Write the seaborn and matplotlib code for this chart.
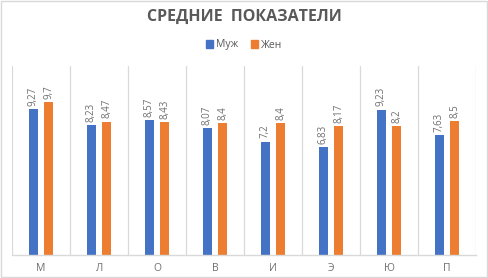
import pandas as pd
import seaborn as sns
import matplotlib.pyplot as plt
from matplotlib.patches import Rectangle

categories = ['М', 'Л', 'О', 'В', 'И', 'Э', 'Ю', 'П']
male = [9.27, 8.23, 8.57, 8.07, 7.2, 6.83, 9.23, 7.63]
female = [9.7, 8.47, 8.43, 8.4, 8.4, 8.17, 8.2, 8.5]
series = ['Муж', 'Жен']
colors = ['#4472c4', '#ed7d31']

df = pd.DataFrame({
    'cat': categories * 2,
    'val': male + female,
    'sex': [series[0]] * len(male) + [series[1]] * len(female),
})

sns.set_style('white')
plt.rcParams['font.family'] = ['Open Sans', 'DejaVu Sans']

fig = plt.figure(figsize=(4.88, 2.78), dpi=100)
ax = fig.add_axes([12 / 488, 23 / 278, 464 / 488, 189 / 278])

sns.barplot(data=df, x='cat', y='val', hue='sex', palette=colors, width=0.52,
            saturation=1, ax=ax, legend=False)

# slimmer bars with a gap, like the Excel original
bw = 8.5 / 58
for cont in ax.containers:
    for bar in cont:
        cx = bar.get_x() + bar.get_width() / 2
        bar.set_width(bw)
        bar.set_x(cx - bw / 2)
        bar.set_edgecolor('none')

ax.set_ylim(0, 12)
ax.set_xlim(-0.5, len(categories) - 0.5)
ax.set_yticks([])
ax.set_xlabel('')
ax.set_ylabel('')
for s in ['top', 'left', 'right']:
    ax.spines[s].set_visible(False)
ax.spines['bottom'].set_color('#d9d9d9')
ax.spines['bottom'].set_linewidth(1)
ax.tick_params(axis='x', length=0, pad=6, labelsize=7.5, labelcolor='#6f6f6f')

# vertical separators between categories
for xb in range(len(categories) + 1):
    ax.axvline(xb - 0.5, color='#d9d9d9', lw=0.9, zorder=0)

# data labels
for cont in ax.containers:
    for bar in cont:
        h = bar.get_height()
        ax.text(bar.get_x() + bar.get_width() / 2, h + 0.2,
                f'{h:g}'.replace('.', ','), rotation=90, ha='center', va='bottom',
                fontsize=7, color='#6f6f6f')

fig.text(0.5, 1 - 17 / 278, 'СРЕДНИЕ  ПОКАЗАТЕЛИ', ha='center', va='center',
         fontsize=11.5, fontweight='bold', color='#595959')

# legend
handles = [Rectangle((0, 0), 1, 1, color=c) for c in colors]
fig.legend(handles, series, loc='center', bbox_to_anchor=(0.5, 1 - 45 / 278),
           ncol=2, frameon=False, fontsize=7.5, labelcolor='#595959',
           handlelength=0.7, handleheight=0.7, handletextpad=0.3, columnspacing=1.2)

fig.patches.append(Rectangle((0.002, 0.003), 0.996, 0.994, transform=fig.transFigure,
                             fill=False, edgecolor='#d9d9d9', lw=1))

fig.savefig('out.png', dpi=100, facecolor='white')
